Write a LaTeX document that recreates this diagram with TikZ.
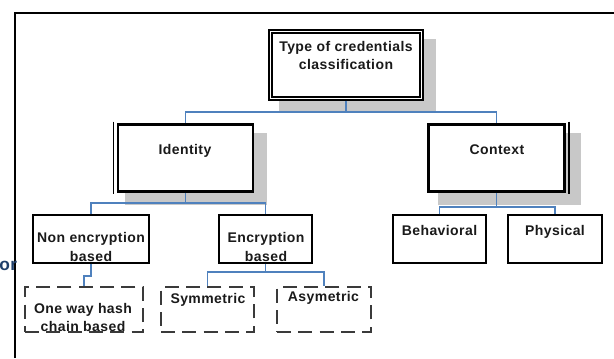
\documentclass[tikz,border=0pt]{standalone}
\usepackage{fontspec}
\setmainfont{Liberation Sans}[LetterSpace=3]
\usetikzlibrary{fit,calc}
\pgfdeclarelayer{bg}
\pgfsetlayers{bg,main}
\definecolor{connc}{HTML}{4F81BD}
\definecolor{shadc}{HTML}{C8C8C8}
\definecolor{txtc}{HTML}{1A1A1A}
\definecolor{dashc}{HTML}{3A3A3A}
\definecolor{orc}{HTML}{1F3F6A}
\begin{document}
\begin{tikzpicture}[x=0.75pt,y=-0.75pt,
  box/.style={inner sep=0pt,draw=black,fill=white},
  thinbox/.style={box,line width=1.1pt},
  thickbox/.style={box,line width=2pt},
  dashbox/.style={inner sep=0pt,draw=dashc,line width=1.3pt,dash pattern=on 10.5pt off 5.5pt},
  conn/.style={draw=connc,line width=1.2pt},
  shadow/.style={fill=shadc},
  lbl/.style={inner sep=0pt,anchor=base,text=txtc,font=\fontsize{10.5}{12}\selectfont\bfseries}
]
\useasboundingbox (0,0) rectangle (614,358);
% frame
\draw[line width=1.6pt] (15,358) -- (15,13) -- (614,13);
\node[anchor=base west,inner sep=0pt,text=orc,font=\fontsize{13}{15}\selectfont\bfseries] (or) at (-1,270) {or};

% boxes
\node[box,line width=1.1pt,fit={(269,30) (423,100)}] (T) {};
\draw[line width=1.5pt] ($(T.north west)+(4,4)$) rectangle ($(T.south east)+(-4,-4)$);
\node[thickbox,fit={(118,124.5) (253,191.5)}] (I) {};
\draw[line width=1pt] ($(I.north west)+(-3,-1.5)$) -- ($(I.south west)+(-3,1.5)$);
\node[thickbox,fit={(428.5,124.5) (564.5,191.5)}] (C) {};
\draw[line width=1pt] ($(C.north east)+(3,-1.5)$) -- ($(C.south east)+(3,1.5)$);

\node[thinbox,fit={(33,215) (149,263)}] (NE) {};
\node[thinbox,fit={(219,215) (312,263)}] (E) {};
\node[thinbox,fit={(393,215) (486,263)}] (B) {};
\node[thinbox,fit={(508,215) (602,263)}] (P) {};
\node[dashbox,fit={(25,287) (143,332)}] (OW) {};
\node[dashbox,fit={(161,287) (254,332)}] (S) {};
\node[dashbox,fit={(277,287) (371,332)}] (A) {};

% shadows
\begin{pgfonlayer}{bg}
\fill[shadow] ($(T.north west)+(11,10)$) rectangle ($(T.south east)+(12,11)$);
\fill[shadow] ($(I.north west)+(8,10)$) rectangle ($(I.south east)+(13,12)$);
\fill[shadow] ($(C.north west)+(11,10)$) rectangle ($(C.south east)+(15,12)$);
\end{pgfonlayer}

% connectors
\draw[conn] (T.south) -- ++(0,11) coordinate (tj);
\draw[conn] (I.north) |- (tj) -| (C.north);
\draw[conn] (I.south) -- ++(0,10) coordinate (ij);
\draw[conn] (NE.north) |- (ij) -| (E.north);
\draw[conn] (C.south) -- ++(0,14) coordinate (cj);
\draw[conn] (B.north) |- (cj) -| (P.north);
\draw[conn] (NE.south) -- ++(0,12) -| (OW.north);
\draw[conn] (E.south) -- ++(0,8) coordinate (ej);
\draw[conn] (S.north) |- (ej) -| (A.north);

% labels
\node[lbl] (T1) at (346,51) {Type of credentials};
\node[lbl] (T2) at (346,69) {classification};
\node[lbl] (I1) at (185,154) {Identity};
\node[lbl] (C1) at (497,154) {Context};
\node[lbl] (NE1) at (91,242) {Non encryption};
\node[lbl] (NE2) at (91,261) {based};
\node[lbl] (E1) at (266,242) {Encryption};
\node[lbl] (E2) at (266,261) {based};
\node[lbl] (B1) at (439.5,235) {Behavioral};
\node[lbl] (P1) at (555,235) {Physical};
\node[lbl] (OW1) at (83,313) {One way hash};
\node[lbl] (OW2) at (83,331) {chain based};
\node[lbl] (S1) at (208,303) {Symmetric};
\node[lbl] (A1) at (323.5,301) {Asymetric};
\end{tikzpicture}
\end{document}
